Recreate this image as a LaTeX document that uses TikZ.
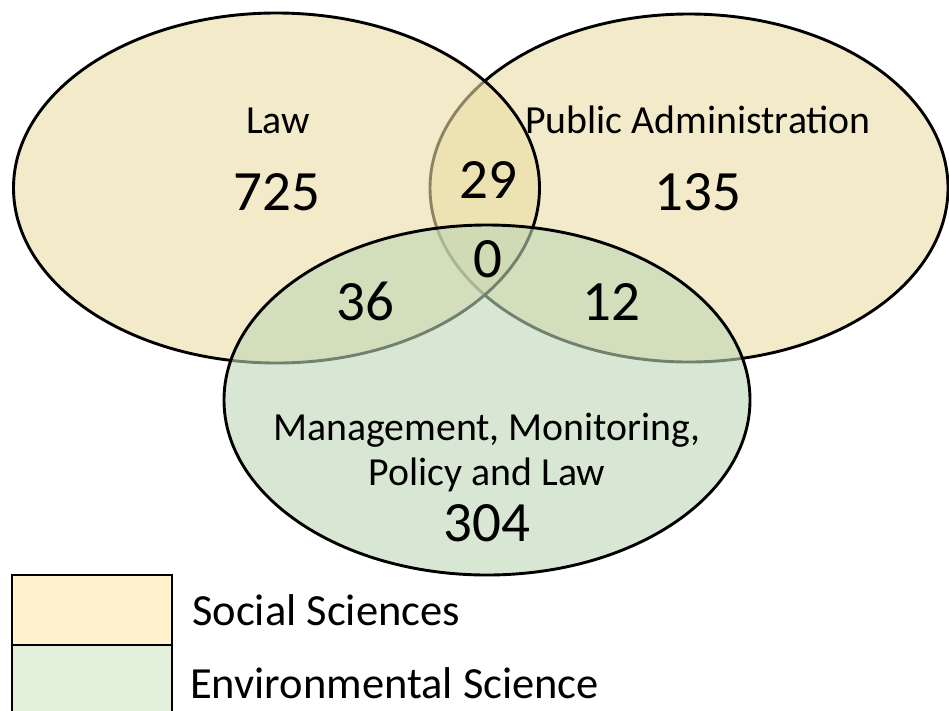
\documentclass[tikz,border=0pt]{standalone}
\usepackage{fontspec}
\setmainfont{Carlito}
\begin{document}
\begin{tikzpicture}[x=1pt,y=-1pt]
\definecolor{tanC}{RGB}{233,220,163}
\definecolor{greenC}{RGB}{190,215,182}
\definecolor{legY}{RGB}{255,242,204}
\definecolor{legG}{RGB}{226,239,218}
\tikzset{
  setell/.style={draw=black, line width=2.9pt, fill opacity=0.6},
  lbl/.style={anchor=base, inner sep=0pt, font=\fontsize{39.8}{44}\selectfont},
  num/.style={anchor=base, inner sep=0pt, font=\fontsize{57}{62}\selectfont},
  leg/.style={anchor=base west, inner sep=0pt, font=\fontsize{44.5}{50}\selectfont},
  legbox/.style={draw=black, line width=1.3pt}
}
\useasboundingbox (0,0) rectangle (949,710);
\clip (0,0) rectangle (949,710);
% ellipses: Public Administration, Law, Management
\path[setell, fill=tanC] (689,188) ellipse [x radius=259pt, y radius=174pt];
\path[setell, fill=tanC] (276.5,188) ellipse [x radius=263pt, y radius=175pt];
\path[setell, fill=greenC] (487,400) ellipse [x radius=263pt, y radius=175pt];
% labels
\node[lbl] (lawlbl) at (278,133) {Law};
\node[num] (lawnum) at (277,210) {725};
\node[lbl] (palbl) at (698,133) {Public Administration};
\node[num] (panum) at (698,210) {135};
\node[num] (lp) at (488,198) {29};
\node[num] (all) at (488,277) {0};
\node[num] (lm) at (365,320) {36};
\node[num] (pm) at (611,320) {12};
\node[lbl] (mlbl1) at (487,440) {Management, Monitoring,};
\node[lbl] (mlbl2) at (487,485) {Policy and Law};
\node[num] (mnum) at (487,541) {304};
% legend
\draw[legbox, fill=legY] (12,575) rectangle (172,645);
\draw[legbox, fill=legG] (12,645) rectangle (172,716);
\node[leg] (legss) at (192,625) {Social Sciences};
\node[leg] (leges) at (190,698) {Environmental Science};
\end{tikzpicture}
\end{document}
